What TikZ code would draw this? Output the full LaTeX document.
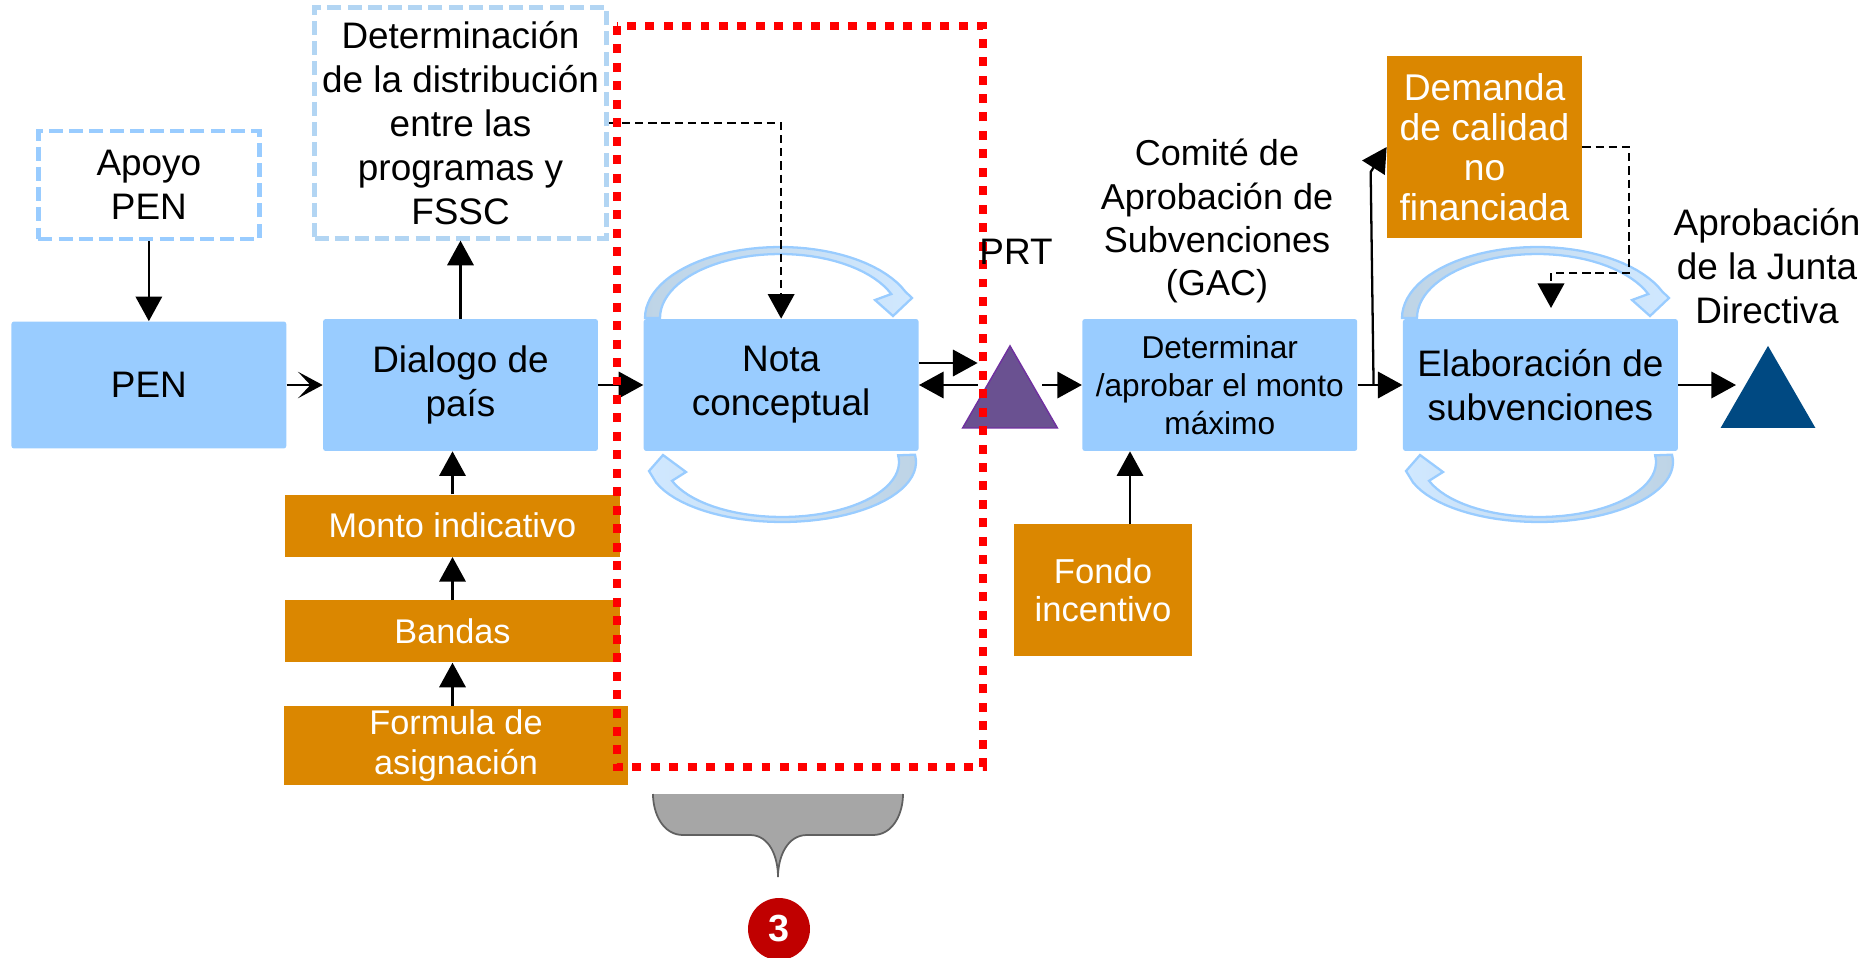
\documentclass[tikz,border=0pt]{standalone}
\usepackage{fontspec}
\setmainfont{Liberation Sans}
\usepackage{tikz}
\usetikzlibrary{positioning}
\usetikzlibrary{arrows.meta,shapes.geometric}
\usepackage{xcolor}
\definecolor{boxblue}{RGB}{153,204,255}
\definecolor{dashblue}{RGB}{178,213,243}
\definecolor{boxorange}{RGB}{219,135,0}
\definecolor{prtpurple}{RGB}{106,81,145}
\definecolor{prtedge}{RGB}{112,48,160}
\definecolor{juntablue}{RGB}{0,73,130}
\definecolor{banddark}{RGB}{190,212,230}
\definecolor{bandlight}{RGB}{208,232,255}
\definecolor{bracegray}{RGB}{166,166,166}
\definecolor{braceedge}{RGB}{96,96,96}
\definecolor{stepred}{RGB}{192,0,0}
\pgfkeys{tikz/bluebox/.style={fill=boxblue, rounded corners=1.5pt, minimum width=5.5cm, minimum height=2.64cm, align=center, inner sep=2pt, font=\fontsize{21}{25}\selectfont}}
\pgfkeys{tikz/dashbox/.style={draw=boxblue, line width=2.6pt, dash pattern=on 8pt off 3.5pt, align=center, inner sep=2pt, font=\fontsize{21}{25}\selectfont}}
\pgfkeys{tikz/orangebox/.style={fill=boxorange, text=white, minimum width=6.7cm, minimum height=1.24cm, align=center, inner sep=2pt, font=\fontsize{19.5}{22.8}\selectfont}}
\pgfkeys{tikz/tri/.style={regular polygon, regular polygon sides=3, minimum size=2.19cm, inner sep=0pt}}
\pgfkeys{tikz/arr/.style={line width=1.3pt, -{Triangle[length=14pt,width=15pt]}}}
\pgfkeys{tikz/dasharr/.style={arr, line width=1.5pt, dash pattern=on 4.7pt off 2.8pt}}
\pgfkeys{tikz/bandtop/.style={draw=boxblue, line width=1.3pt, left color=banddark, right color=bandlight}}
\pgfkeys{tikz/bandbot/.style={draw=boxblue, line width=1.3pt, left color=bandlight, right color=banddark}}
\pgfkeys{tikz/reddot/.style={draw=red, line width=5.1pt, dash pattern=on 5.1pt off 5.4pt}}

\begin{document}
\begin{tikzpicture}[x=0.02cm, y=-0.02cm]
	\useasboundingbox (0,0) rectangle (1863,957);

	\draw[bandtop] plot[domain=180:22, samples=40] ({780+135*cos(\x)},{318-71*sin(\x)}) -- (912,298) -- (893,316) -- (875,300) -- plot[domain=22:180, samples=40] ({780+120*cos(\x)},{318-64*sin(\x)}) -- cycle;
	\draw[bandbot] plot[domain=-7:160, samples=40] ({782+134*cos(\x)},{462+60*sin(\x)}) -- (649,471) -- (663,455) -- (686,472) -- plot[domain=160:-7, samples=40] ({782+117*cos(\x)},{462+55*sin(\x)}) -- cycle;
	\draw[bandtop] plot[domain=180:22, samples=40] ({1537+135*cos(\x)},{318-71*sin(\x)}) -- (1669,298) -- (1650,316) -- (1632,300) -- plot[domain=22:180, samples=40] ({1537+120*cos(\x)},{318-64*sin(\x)}) -- cycle;
	\draw[bandbot] plot[domain=-7:160, samples=40] ({1539+134*cos(\x)},{462+60*sin(\x)}) -- (1406,471) -- (1420,455) -- (1443,472) -- plot[domain=160:-7, samples=40] ({1539+117*cos(\x)},{462+55*sin(\x)}) -- cycle;

	\node[bluebox] (dial) at (460.5,385) {Dialogo de\\país};
	\node[bluebox, minimum height=2.54cm, left=0.72cm of dial] (pen) {PEN};
	\node[bluebox, right=0.9cm of dial] (nota) {Nota\\conceptual};
	\node[bluebox, right=3.26cm of nota, font=\fontsize{18}{21.8}\selectfont] (det) {Determinar\\/aprobar el monto\\máximo};
	\node[bluebox, right=0.9cm of det] (elab) {Elaboración de\\subvenciones};

	\node[dashbox, minimum width=4.42cm, minimum height=2.16cm, above=1.6cm of pen] (apoyo) {Apoyo\\PEN};
	\node[dashbox, draw=dashblue, minimum width=5.84cm, minimum height=4.62cm, above=1.56cm of dial] (distrib) {Determinación\\de la distribución\\entre las\\programas y\\FSSC};

	\node[orangebox, below=0.86cm of dial, xshift=-0.16cm] (monto) {Monto indicativo};
	\node[orangebox, below=0.86cm of monto] (bandas) {Bandas};
	\node[orangebox, minimum width=6.87cm, minimum height=1.56cm, below=0.86cm of bandas, xshift=0.07cm] (formula) {Formula de\\asignación};
	\node[orangebox, minimum width=3.56cm, minimum height=2.64cm, font=\fontsize{19.7}{21.8}\selectfont] (fondo) at (1103,590) {Fondo\\incentivo};
	\node[orangebox, minimum width=3.9cm, minimum height=3.64cm, font=\fontsize{21.2}{22.8}\selectfont] (demanda) at (1484.5,147) {Demanda\\de calidad\\no\\financiada};

	\node[tri, fill=prtpurple, draw=prtedge, line width=0.8pt] (prt) at (1010,400.6) {};
	\node[tri, fill=juntablue] (junta) at (1768,400.6) {};

	\draw[arr] (apoyo) -- (pen);
	\draw[line width=1.3pt, -{Stealth[length=14pt,width=15pt,inset=7pt]}] (pen) -- (dial);
	\draw[arr] (dial) -- (distrib);
	\draw[arr] (dial) -- (nota);
	\draw[arr] (monto) -- (monto |- dial.south);
	\draw[arr] (bandas) -- (monto);
	\draw[arr] (bandas |- formula.north) -- (bandas);
	\draw[dasharr] (distrib.east) -| (nota.north);
	\draw[arr] ([yshift=0.44cm]nota.east) -- ([yshift=0.44cm]nota.east -| prt.west);
	\draw[arr] (nota.east -| prt.west) -- (nota.east);
	\draw[arr] (det.west -| prt.east) -- (det.west);
	\draw[arr] ([xshift=0.54cm]fondo.north) -- ([xshift=0.54cm]fondo.north |- det.south);
	\draw[arr] (det) -- (elab);
	\draw[arr] ([xshift=0.32cm]det.east) -- ([xshift=-0.32cm,yshift=-0.5cm]demanda.west) -- (demanda.west);
	\coordinate (demin) at (1551,308);
	\draw[dasharr] (demanda.east) -- ++(46.5,0) |- ([yshift=0.7cm]demin) -- (demin);
	\draw[arr] (elab.east) -- (elab.east -| junta.west);

	\draw[reddot] (617,26) rectangle (983,767);

	\node[font=\fontsize{21}{25}\selectfont] (prtlbl) at (1016,252) {PRT};
	\node[align=center, font=\fontsize{20.5}{24.5}\selectfont] (gac) at (1217,221) {Comité de\\Aprobación de\\Subvenciones\\(GAC)};
	\node[align=center, font=\fontsize{21}{25}\selectfont] (jdlbl) at (1767,266) {Aprobación\\de la Junta\\Directiva};

	\fill[bracegray] (653,794) -- (903,794) to[out=-90,in=0] (873,835) -- (807,835) to[out=180,in=90] (778,877) to[out=90,in=0] (750,835) -- (683,835) to[out=180,in=-90] (653,794) -- cycle;
	\draw[braceedge, line width=1pt] (903,794) to[out=-90,in=0] (873,835) -- (807,835) to[out=180,in=90] (778,877) to[out=90,in=0] (750,835) -- (683,835) to[out=180,in=-90] (653,794);
	\node[circle, fill=stepred, text=white, minimum size=1.24cm, inner sep=0pt, font=\bfseries\fontsize{21.5}{24}\selectfont] (num) at (779,929) {3};
\end{tikzpicture}
\end{document}
